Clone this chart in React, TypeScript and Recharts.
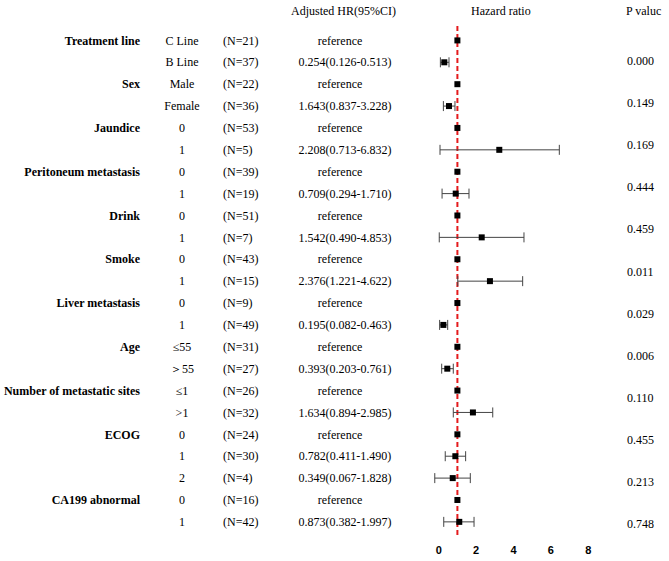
import React from 'react';
import { ScatterChart, Scatter, XAxis, YAxis, ErrorBar, ReferenceLine } from 'recharts';

// one entry per row, top to bottom
const groupLabels = [
  'Treatment line', '', 'Sex', '', 'Jaundice', '', 'Peritoneum metastasis', '',
  'Drink', '', 'Smoke', '', 'Liver metastasis', '', 'Age', '',
  'Number of metastatic sites', '', 'ECOG', '', '', 'CA199 abnormal', '',
];
const subLabels = [
  'C Line', 'B Line', 'Male', 'Female', '0', '1', '0', '1', '0', '1', '0', '1',
  '0', '1', '≤55', '＞55', '≤1', '>1', '0', '1', '2', '0', '1',
];
const nCounts = [21, 37, 22, 36, 53, 5, 39, 19, 51, 7, 43, 15, 9, 49, 31, 27, 26, 32, 24, 30, 4, 16, 42];
const hrTexts = [
  'reference', '0.254(0.126-0.513)', 'reference', '1.643(0.837-3.228)',
  'reference', '2.208(0.713-6.832)', 'reference', '0.709(0.294-1.710)',
  'reference', '1.542(0.490-4.853)', 'reference', '2.376(1.221-4.622)',
  'reference', '0.195(0.082-0.463)', 'reference', '0.393(0.203-0.761)',
  'reference', '1.634(0.894-2.985)', 'reference', '0.782(0.411-1.490)',
  '0.349(0.067-1.828)', 'reference', '0.873(0.382-1.997)',
];

// plotted estimates as drawn (null = reference row)
const plotHr = [null, 0.30, null, 0.55, null, 3.24, null, 0.91, null, 2.30, null, 2.74,
  null, 0.25, null, 0.46, null, 1.83, null, 0.89, 0.75, null, 1.10];
const plotLo = [null, 0.09, null, 0.25, null, 0.07, null, 0.18, null, 0.03, null, 1.02,
  null, 0.05, null, 0.16, null, 0.78, null, 0.35, -0.21, null, 0.27];
const plotHi = [null, 0.55, null, 0.87, null, 6.45, null, 1.62, null, 4.56, null, 4.49,
  null, 0.48, null, 0.78, null, 2.89, null, 1.44, 1.69, null, 1.89];

const pValues = ['0.000', '0.149', '0.169', '0.444', '0.459', '0.011', '0.029', '0.006', '0.110', '0.455', '0.213', '0.748'];
const xTicks = [0, 2, 4, 6, 8];

const rows = subLabels.map((_, i) => i + 1);
const refData = rows.filter((r) => plotHr[r - 1] === null).map((r) => ({ hr: 1, row: r }));
const estData = rows
  .filter((r) => plotHr[r - 1] !== null)
  .map((r) => {
    const i = r - 1;
    const hr = plotHr[i] as number;
    return { hr, row: r, err: [hr - (plotLo[i] as number), (plotHi[i] as number) - hr] };
  });

const serif = '"Liberation Serif", "Times New Roman", serif';

const RowTick = (props: any) => {
  const { y, payload } = props;
  const i = payload.value - 1;
  const isRef = hrTexts[i] === 'reference';
  return (
    <g fontFamily={serif} fontSize={12} fill="#000">
      <text x={140} y={y} dy="0.35em" textAnchor="end" fontWeight="bold" fill="#000">{groupLabels[i]}</text>
      <text x={182} y={y} dy="0.35em" textAnchor="middle" fill="#000">{subLabels[i]}</text>
      <text x={223} y={y} dy="0.35em" textAnchor="start" fill="#000">{`(N=${nCounts[i]})`}</text>
      <text x={isRef ? 340 : 345} y={y} dy="0.35em" textAnchor="middle" fill="#000">{hrTexts[i]}</text>
    </g>
  );
};

const Square = (props: any) => {
  const { cx, cy } = props;
  return <rect x={cx - 3} y={cy - 3} width={6} height={6} fill="#000" />;
};

const headerStyle: React.CSSProperties = {
  position: 'absolute',
  fontFamily: serif,
  fontSize: 12,
  lineHeight: '14px',
  whiteSpace: 'nowrap',
  color: '#000',
};

export default function App() {
  return (
    <div style={{ position: 'absolute', left: 0, top: 0, width: 669, height: 561, background: '#fff', overflow: 'hidden' }}>
      <ScatterChart width={669} height={561} margin={{ top: 24, right: 71.35, bottom: 0, left: 0 }}>
        <XAxis
          type="number"
          dataKey="hr"
          domain={[-0.5, 8.5]}
          ticks={xTicks}
          allowDataOverflow
          axisLine={false}
          tickLine={false}
          tickMargin={5}
          height={26}
          tick={{ fontFamily: '"Liberation Sans", Arial, sans-serif', fontSize: 11, fontWeight: 'bold', fill: '#000' }}
        />
        <YAxis
          type="number"
          dataKey="row"
          domain={[0.25, 23.6]}
          reversed
          allowDataOverflow
          ticks={rows}
          interval={0}
          width={429.35}
          axisLine={false}
          tickLine={false}
          tick={<RowTick />}
        />
        <ReferenceLine x={1} stroke="#e41a1c" strokeDasharray="5 3" strokeWidth={2} />
        <Scatter data={estData} shape={<Square />} isAnimationActive={false}>
          <ErrorBar dataKey="err" direction="x" width={5} stroke="#444" strokeWidth={1} />
        </Scatter>
        <Scatter data={refData} shape={<Square />} isAnimationActive={false} />
      </ScatterChart>
      <div style={{ ...headerStyle, left: 291, top: 4 }}>Adjusted HR(95%CI)</div>
      <div style={{ ...headerStyle, left: 471, top: 4 }}>Hazard ratio</div>
      <div style={{ ...headerStyle, left: 626, top: 4 }}>P valuc</div>
      {pValues.map((p, i) => (
        <div key={p + i} style={{ ...headerStyle, left: 627, top: 61 + i * 42.1 - 7 }}>{p}</div>
      ))}
    </div>
  );
}
